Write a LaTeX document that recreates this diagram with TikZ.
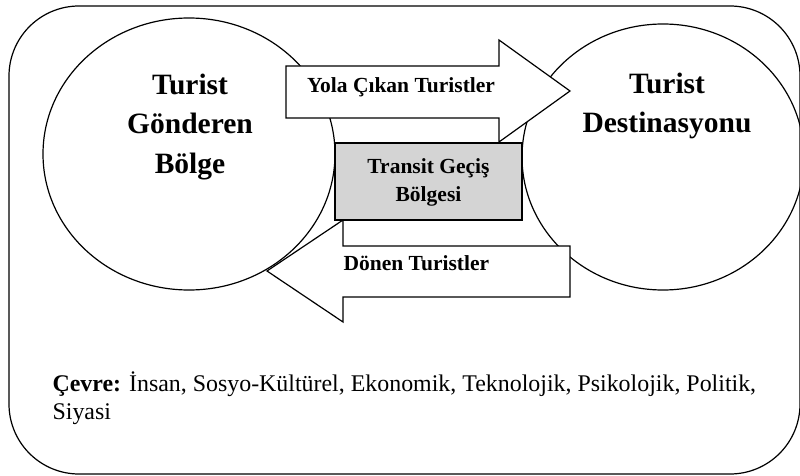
\documentclass[tikz,border=0pt]{standalone}
\usepackage{fontspec}
\setmainfont{Liberation Serif}
\usetikzlibrary{shapes.geometric}

\begin{document}
\begin{tikzpicture}[x=1pt, y=-1pt, line width=1.2pt,
  region/.style={draw, ellipse, inner sep=0pt},
  flow/.style={draw, fill=white, line join=miter},
  big/.style={font=\fontsize{29.5}{39.5}\selectfont\bfseries, align=center},
  small/.style={font=\fontsize{21.5}{28.5}\selectfont\bfseries, align=center}]
  \useasboundingbox (0,0) rectangle (800,476);
  % Environment frame
  \node[draw, rounded corners=70pt, minimum width=791pt, minimum height=468pt] (cevre) at (404.5,240) {};
  % The two regions
  \node[region, minimum width=292pt, minimum height=272pt] (gonderen) at (189,154) {};
  \node[region, minimum width=282pt, minimum height=266pt] (destinasyon) at (663,157) {};
  % Flows of tourists
  \draw[flow] (286,66) -- (499,66) -- (499,40) -- (570,91) -- (499,142) -- (499,118) -- (286,118) -- cycle;
  \draw[flow] (570,246) -- (343,246) -- (343,220) -- (267,271) -- (343,322) -- (343,297) -- (570,297) -- cycle;
  \node[draw, fill=black!17, minimum width=187pt, minimum height=77pt] (transit) at (428.5,181.5) {};
  % Labels
  \node[big, anchor=base] (gonderenlbl) at (190,173) {Turist\\Gönderen\\Bölge};
  \node[big, anchor=base] (destinasyonlbl) at (667,132.5) {Turist\\Destinasyonu};
  \node[small, anchor=base] (cikan) at (401,92.7) {Yola Çıkan Turistler};
  \node[small, anchor=base] (transitlbl) at (428.5,201.5) {Transit Geçiş\\Bölgesi};
  \node[small, anchor=base west, inner sep=0pt] (donen) at (343,270.7) {Dönen Turistler};
  \node[anchor=base west, inner sep=0pt, align=left, font=\fontsize{23.9}{28}\selectfont] (cevrelbl) at (52,419)
    {\textbf{Çevre:} İnsan, Sosyo-Kültürel, Ekonomik, Teknolojik, Psikolojik, Politik,\\Siyasi};
\end{tikzpicture}
\end{document}
